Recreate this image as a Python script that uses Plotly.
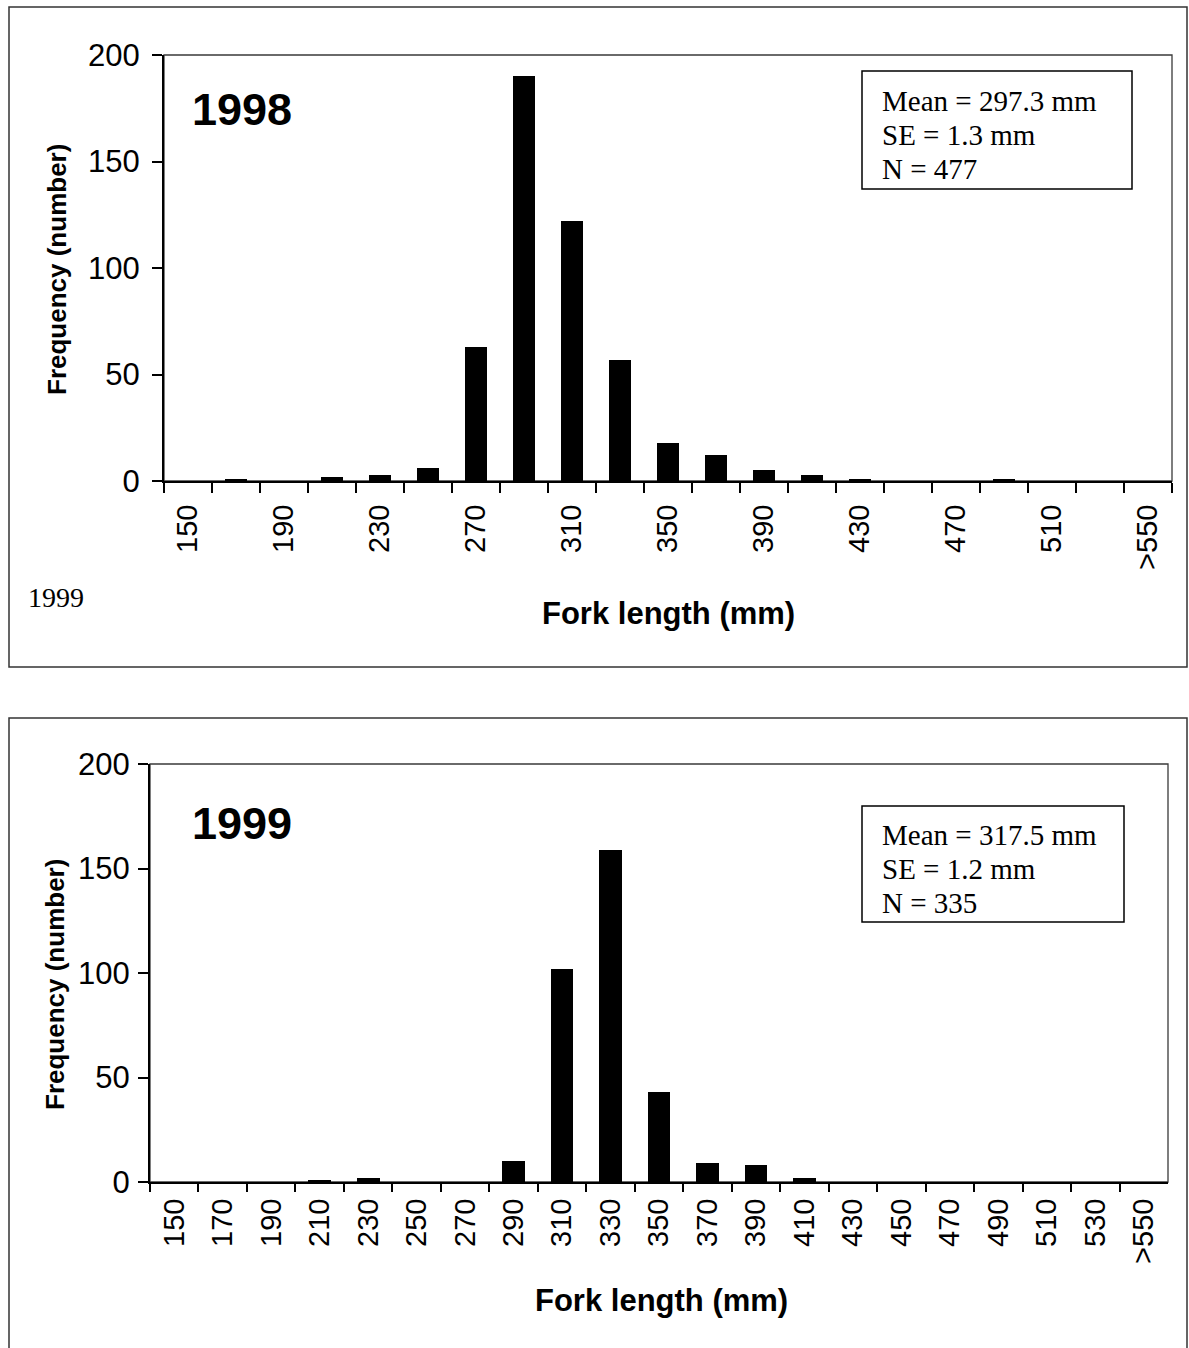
import numpy as np
import plotly.graph_objects as go

W, H = 1189, 1348

# Fork-length classes (mm)
length_classes = [str(v) for v in range(150, 550, 20)] + [">550"]

# Catch frequency per length class
freq_1998 = [0, 1, 0, 2, 3, 6, 63, 190, 122, 57, 18, 12, 5, 3, 1, 0, 0, 1, 0, 0, 0]
freq_1999 = [0, 0, 0, 1, 2, 0, 0, 10, 102, 159, 43, 9, 8, 2, 0, 0, 0, 0, 0, 0, 0]

# Summary statistics shown in the boxes
stats_1998 = ["Mean = 297.3 mm", "SE = 1.3 mm", "N = 477"]
stats_1999 = ["Mean = 317.5 mm", "SE = 1.2 mm", "N = 335"]

y_ticks = [0, 50, 100, 150, 200]

# 1998 axis shows every other class label; 1999 shows all of them
labels_1998 = [c if i % 2 == 0 else "" for i, c in enumerate(length_classes)]
labels_1999 = list(length_classes)

X_TITLE = "<b>Fork length (mm)</b>"
Y_TITLE = "<b>Frequency (number)</b>"

SANS = "Liberation Sans"
SERIF = "Liberation Serif"


def px_x(x):
    return x / W


def px_y(y):
    return 1 - y / H


fig = go.Figure()
fig.add_trace(go.Bar(x=length_classes, y=freq_1998, xaxis="x", yaxis="y",
                     marker=dict(color="black", line=dict(width=0)),
                     width=0.47, showlegend=False))
fig.add_trace(go.Bar(x=length_classes, y=freq_1999, xaxis="x2", yaxis="y2",
                     marker=dict(color="black", line=dict(width=0)),
                     width=0.47, showlegend=False))

n = len(length_classes)
boundaries = list(np.arange(-0.5, n, 1.0))


def cat_axis(domain, anchor, ticktext, ticklen, standoff):
    return dict(
        domain=domain, anchor=anchor, type="category", automargin=False,
        categoryorder="array", categoryarray=length_classes,
        range=[-0.5, n - 0.5],
        tickmode="array", tickvals=length_classes, ticktext=ticktext,
        tickson="boundaries", ticks="outside", ticklen=ticklen,
        tickwidth=1.5, tickcolor="black",
        showline=True, linecolor="black", linewidth=2,
        showgrid=False, zeroline=False, tickangle=-90,
        ticklabelstandoff=standoff,
        tickfont=dict(family=SANS, size=29, color="black"),
    )


def val_axis(domain, anchor, standoff):
    return dict(
        domain=domain, anchor=anchor, range=[0, 200], automargin=False,
        tickmode="array", tickvals=y_ticks,
        ticks="outside", ticklen=10, tickwidth=1.5, tickcolor="black",
        showline=True, linecolor="black", linewidth=2,
        showgrid=False, zeroline=False,
        ticklabelstandoff=standoff,
        tickfont=dict(family=SANS, size=31, color="black"),
    )


top_x = [px_x(164), px_x(1172)]
top_y = [px_y(481), px_y(55)]
bot_x = [px_x(150), px_x(1168)]
bot_y = [px_y(1182), px_y(764)]

fig.update_layout(
    width=W, height=H,
    margin=dict(l=0, r=0, t=0, b=0, autoexpand=False),
    paper_bgcolor="white", plot_bgcolor="white",
    bargap=0,
    xaxis=cat_axis(top_x, "y", labels_1998, 10, 10),
    yaxis=val_axis(top_y, "x", 6),
    xaxis2=cat_axis(bot_x, "y2", labels_1999, 8, 3),
    yaxis2=val_axis(bot_y, "x2", 2),
    # inward half of the crossing tick marks on the 1998 axis
    xaxis3=dict(domain=top_x, anchor="y", overlaying="x", type="linear",
                automargin=False,
                range=[-0.5, n - 0.5], tickmode="array", tickvals=boundaries,
                ticks="inside", ticklen=10, tickwidth=1.5, tickcolor="black",
                showticklabels=False, showline=False, showgrid=False,
                zeroline=False),
)

shapes = []
# plot-area borders
for xr, yr in (("x domain", "y domain"), ("x2 domain", "y2 domain")):
    shapes.append(dict(type="rect", xref=xr, yref=yr, x0=0, x1=1, y0=0, y1=1,
                       line=dict(color="#3a3a3a", width=1.3), layer="below"))
# outer chart frames
shapes.append(dict(type="rect", xref="paper", yref="paper",
                   x0=px_x(9), x1=px_x(1187), y0=px_y(667), y1=px_y(7),
                   line=dict(color="#333333", width=1.5)))
shapes.append(dict(type="rect", xref="paper", yref="paper",
                   x0=px_x(9), x1=px_x(1187), y0=px_y(1360), y1=px_y(718),
                   line=dict(color="#333333", width=1.5)))
# statistics boxes
shapes.append(dict(type="rect", xref="paper", yref="paper",
                   x0=px_x(862), x1=px_x(1132), y0=px_y(189), y1=px_y(71),
                   line=dict(color="black", width=1.5), fillcolor="white"))
shapes.append(dict(type="rect", xref="paper", yref="paper",
                   x0=px_x(862), x1=px_x(1124), y0=px_y(922), y1=px_y(806),
                   line=dict(color="black", width=1.5), fillcolor="white"))
fig.update_layout(shapes=shapes)

annotations = []
# axis titles
for xc, yc in ((668, 613), (661, 1300)):
    annotations.append(dict(text=X_TITLE, xref="paper", yref="paper",
                            x=px_x(xc), y=px_y(yc), xanchor="center",
                            yanchor="middle", showarrow=False,
                            font=dict(family=SANS, size=31, color="black")))
for xc, yc in ((57, 270), (55, 985)):
    annotations.append(dict(text=Y_TITLE, xref="paper", yref="paper",
                            x=px_x(xc), y=px_y(yc), xanchor="center",
                            yanchor="middle", showarrow=False, textangle=-90,
                            font=dict(family=SANS, size=26, color="black")))
# year labels inside the plots
for txt, yc in (("1998", 109), ("1999", 823)):
    annotations.append(dict(text=f"<b>{txt}</b>", xref="paper", yref="paper",
                            x=px_x(190), y=px_y(yc), xanchor="left",
                            yanchor="middle", showarrow=False,
                            font=dict(family=SANS, size=45, color="black")))
# statistics text
for lines, top in ((stats_1998, 101), (stats_1999, 835)):
    for i, line in enumerate(lines):
        annotations.append(dict(text=line, xref="paper", yref="paper",
                                x=px_x(880), y=px_y(top + 34 * i),
                                xanchor="left", yanchor="middle",
                                showarrow=False,
                                font=dict(family=SERIF, size=29, color="black")))
annotations.append(dict(text="1999", xref="paper", yref="paper",
                        x=px_x(26), y=px_y(598), xanchor="left",
                        yanchor="middle", showarrow=False,
                        font=dict(family=SERIF, size=28, color="black")))
fig.update_layout(annotations=annotations)

fig.write_html("out.html")
